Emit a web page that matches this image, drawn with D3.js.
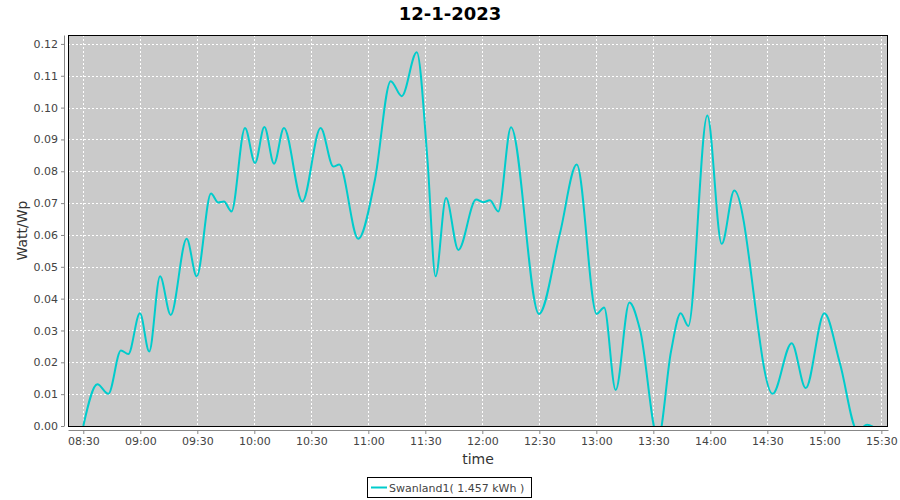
<!DOCTYPE html>
<html>
<head>
<meta charset="utf-8">
<script src="https://cdn.jsdelivr.net/npm/d3@7"></script>
<style>
  html, body { margin: 0; padding: 0; background: #fff; }
  svg { display: block; }
</style>
</head>
<body>
<svg id="chart" width="900" height="500"></svg>
<script>
const chartTitle = "12-1-2023";
const seriesName = "Swanland1( 1.457 kWh )";
const xAxisLabel = "time";
const yAxisLabel = "Watt/Wp";

const times = ["08:30:00","08:37:24","08:43:12","08:49:48","08:53:42","08:59:48","09:04:42","09:10:24","09:16:00","09:24:24",
  "09:29:42","09:37:12","09:41:00","09:44:00","09:48:00","09:55:06","10:00:24","10:05:18","10:10:24","10:15:36",
  "10:25:18","10:34:54","10:41:36","10:44:42","10:54:42","11:03:30","11:11:48","11:17:36","11:25:30","11:31:12",
  "11:35:24","11:40:54","11:47:24","11:56:42","12:00:30","12:04:00","12:08:24","12:15:06","12:29:48","12:40:54",
  "12:49:42","13:00:12","13:04:06","13:10:12","13:17:24","13:23:00","13:32:30","13:39:18","13:44:24","13:48:24",
  "13:58:24","14:06:00","14:12:36","14:32:48","14:42:48","14:50:12","15:00:00","15:08:12","15:17:30","15:22:30","15:25:30"];

const values = [0, 0.0131, 0.0101, 0.0237, 0.0226, 0.0354, 0.0234, 0.047, 0.0349, 0.0588,
  0.047, 0.073, 0.0702, 0.0705, 0.0674, 0.0936, 0.0826, 0.0939, 0.0824, 0.0936,
  0.0705, 0.0936, 0.0815, 0.0821, 0.0588, 0.0774, 0.1083, 0.1036, 0.1174, 0.083,
  0.047, 0.0716, 0.0553, 0.0711, 0.0703, 0.0709, 0.0674, 0.0938, 0.0352, 0.0606,
  0.0821, 0.0352, 0.0372, 0.0113, 0.0388, 0.0302, -0.004, 0.0234, 0.0354, 0.0314,
  0.0975, 0.0572, 0.074, 0.0101, 0.026, 0.0119, 0.0354, 0.0197, -0.0015, 0.0004, -0.0002];

const xTickTimes = ["08:30","09:00","09:30","10:00","10:30","11:00","11:30","12:00","12:30","13:00","13:30","14:00","14:30","15:00","15:30"];
const yTickValues = [0, 0.01, 0.02, 0.03, 0.04, 0.05, 0.06, 0.07, 0.08, 0.09, 0.10, 0.11, 0.12];
const xDomainTimes = ["08:21:57", "15:33:30"];
const yDomain = [0, 0.1228];

const parse = d3.timeParse("%Y-%m-%d %H:%M:%S");
const day = "2023-01-12 ";
const toDate = s => parse(day + (s.length === 5 ? s + ":00" : s));

const data = times.map((t, i) => ({ t: toDate(t), v: values[i] }));

const svg = d3.select("#chart");
const L = 68, T = 35, R = 888, B = 426;

const x = d3.scaleTime().domain(xDomainTimes.map(toDate)).range([L, R]);
const y = d3.scaleLinear().domain(yDomain).range([B, T]);

const labelFont = "DejaVu Sans, sans-serif";

// Title
svg.append("text")
  .attr("x", 450).attr("y", 20)
  .attr("text-anchor", "middle")
  .attr("font-family", labelFont)
  .attr("font-weight", "bold")
  .attr("font-size", 18)
  .attr("fill", "#000")
  .text(chartTitle);

// Plot background
svg.append("rect")
  .attr("x", L).attr("y", T).attr("width", R - L).attr("height", B - T)
  .attr("fill", "#cacaca");

// Gridlines
const grid = svg.append("g");
grid.selectAll("line.gx").data(xTickTimes.map(toDate)).join("line")
  .attr("x1", d => Math.round(x(d)) + 0.5).attr("x2", d => Math.round(x(d)) + 0.5)
  .attr("y1", T).attr("y2", B)
  .attr("stroke", "#fff").attr("stroke-width", 1).attr("stroke-dasharray", "2,2");
grid.selectAll("line.gy").data(yTickValues).join("line")
  .attr("x1", L).attr("x2", R)
  .attr("y1", d => Math.round(y(d)) + 0.5).attr("y2", d => Math.round(y(d)) + 0.5)
  .attr("stroke", "#fff").attr("stroke-width", 1).attr("stroke-dasharray", "2,2");

// Clip
svg.append("clipPath").attr("id", "plotclip")
  .append("rect").attr("x", L).attr("y", T).attr("width", R - L).attr("height", B - T);

// Line
const line = d3.line()
  .x(d => x(d.t))
  .y(d => y(d.v))
  .curve(d3.curveMonotoneX);

svg.append("path")
  .datum(data)
  .attr("clip-path", "url(#plotclip)")
  .attr("fill", "none")
  .attr("stroke", "#00cccc")
  .attr("stroke-width", 2)
  .attr("stroke-linejoin", "round")
  .attr("d", line);

// Plot border
svg.append("rect")
  .attr("x", L + 0.5).attr("y", T + 0.5).attr("width", R - L - 1).attr("height", B - T)
  .attr("fill", "none").attr("stroke", "#000").attr("stroke-width", 1);

// X axis
const xAxis = d3.axisBottom(x)
  .tickValues(xTickTimes.map(toDate))
  .tickFormat(d3.timeFormat("%H:%M"))
  .tickSizeOuter(0).tickSizeInner(4).tickPadding(3);
const gx = svg.append("g").attr("transform", `translate(0,${B + 4})`).call(xAxis);
gx.select(".domain").attr("stroke", "#888");
gx.selectAll(".tick line").attr("stroke", "#888");
gx.selectAll("text").attr("font-family", labelFont).attr("font-size", 11).attr("fill", "#444");

// Y axis
const yAxis = d3.axisLeft(y)
  .tickValues(yTickValues)
  .tickFormat(d3.format(".2f"))
  .tickSizeOuter(0).tickSizeInner(3).tickPadding(3);
const gy = svg.append("g").attr("transform", `translate(${L - 4},0)`).call(yAxis);
gy.select(".domain").attr("stroke", "#888");
gy.selectAll(".tick line").attr("stroke", "#888");
gy.selectAll("text").attr("font-family", labelFont).attr("font-size", 11).attr("fill", "#444");

// Axis labels
svg.append("text")
  .attr("x", (L + R) / 2).attr("y", 464)
  .attr("text-anchor", "middle")
  .attr("font-family", labelFont).attr("font-size", 14)
  .attr("fill", "#333")
  .text(xAxisLabel);

svg.append("text")
  .attr("transform", `translate(27,${(T + B) / 2}) rotate(-90)`)
  .attr("text-anchor", "middle")
  .attr("font-family", labelFont).attr("font-size", 14)
  .attr("fill", "#333")
  .text(yAxisLabel);

// Legend
const lg = svg.append("g");
lg.append("rect")
  .attr("x", 367.5).attr("y", 477.5).attr("width", 164).attr("height", 20)
  .attr("fill", "#fff").attr("stroke", "#000").attr("stroke-width", 1);
lg.append("line")
  .attr("x1", 371).attr("x2", 387).attr("y1", 487.5).attr("y2", 487.5)
  .attr("stroke", "#00cccc").attr("stroke-width", 2);
lg.append("text")
  .attr("x", 389).attr("y", 492)
  .attr("font-family", labelFont).attr("font-size", 11)
  .attr("fill", "#444")
  .text(seriesName);
</script>
</body>
</html>
